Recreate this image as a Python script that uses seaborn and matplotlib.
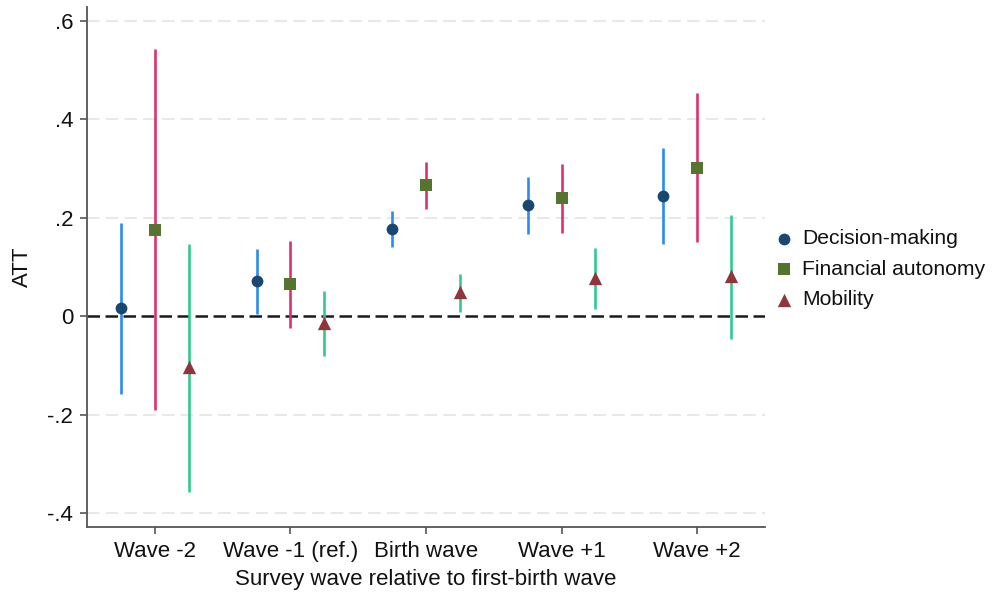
import matplotlib
matplotlib.use("Agg")
import matplotlib.pyplot as plt
import seaborn as sns
import numpy as np
import pandas as pd

categories = ["Wave -2", "Wave -1 (ref.)", "Birth wave", "Wave +1", "Wave +2"]
series = ["Decision-making", "Financial autonomy", "Mobility"]

decision = [0.017, 0.071, 0.177, 0.225, 0.245]
decision_lo = [-0.157, 0.004, 0.140, 0.167, 0.147]
decision_hi = [0.190, 0.137, 0.213, 0.283, 0.342]

financial = [0.176, 0.065, 0.266, 0.240, 0.302]
financial_lo = [-0.191, -0.023, 0.218, 0.169, 0.150]
financial_hi = [0.542, 0.153, 0.313, 0.310, 0.453]

mobility = [-0.103, -0.013, 0.049, 0.078, 0.081]
mobility_lo = [-0.357, -0.081, 0.009, 0.014, -0.046]
mobility_hi = [0.146, 0.051, 0.085, 0.139, 0.206]

ytick_values = [-0.4, -0.2, 0, 0.2, 0.4, 0.6]
ytick_labels = ["-.4", "-.2", "0", ".2", ".4", ".6"]

sns.set_theme(style="white")
plt.rcParams["font.family"] = ["Liberation Sans", "DejaVu Sans"]

marker_colors = ["#1a476f", "#55752f", "#90353b"]
ci_colors = ["#2b8cf0", "#e0306c", "#2fcb8c"]
markers = ["o", "s", "^"]
msizes = [72, 72, 92]
offsets = [-0.25, 0.0, 0.25]
FS = 16

fig = plt.figure(figsize=(9.98, 5.97), dpi=100)
ax = fig.add_axes([0.0872, 0.1173, 0.6793, 0.871])

est = [decision, financial, mobility]
lo = [decision_lo, financial_lo, mobility_lo]
hi = [decision_hi, financial_hi, mobility_hi]

frames = []
for i, name in enumerate(series):
    frames.append(pd.DataFrame({
        "cat": categories,
        "x": np.arange(len(categories)) + offsets[i],
        "est": est[i], "lo": lo[i], "hi": hi[i], "series": name,
    }))
df = pd.concat(frames, ignore_index=True)

# gridlines
for v in ytick_values:
    if v != 0:
        ax.axhline(v, color="#e8e8e8", lw=1.5, ls=(0, (6, 3)), zorder=0.5)
ax.axhline(0, color="#1a1a1a", lw=1.8, ls=(0, (5, 2.2)), zorder=1.5)

for i, name in enumerate(series):
    d = df[df["series"] == name]
    ax.vlines(d["x"], d["lo"], d["hi"], color=ci_colors[i], lw=1.9, zorder=2)
    sns.scatterplot(data=d, x="x", y="est", marker=markers[i], s=msizes[i],
                    color=marker_colors[i], edgecolor=marker_colors[i],
                    linewidth=0, label=name, ax=ax, zorder=3)

ax.set_xlim(-0.5, 4.5)
ax.set_ylim(-0.428, 0.628)
ax.set_xticks(np.arange(len(categories)))
ax.set_xticklabels(categories, fontsize=FS)
ax.set_yticks(ytick_values)
ax.set_yticklabels(ytick_labels, fontsize=FS)
ax.tick_params(axis="both", direction="out", length=5, width=1.2,
               color="#555555", labelcolor="#111111", pad=5)
ax.tick_params(axis="x", bottom=True)
ax.tick_params(axis="y", left=True)

for s in ["top", "right"]:
    ax.spines[s].set_visible(False)
for s in ["left", "bottom"]:
    ax.spines[s].set_color("#555555")
    ax.spines[s].set_linewidth(1.3)

ax.set_xlabel("Survey wave relative to first-birth wave", fontsize=FS,
              color="#111111", labelpad=5)
ax.set_ylabel("ATT", fontsize=FS, color="#111111", labelpad=10)

leg = ax.legend(loc="center left", bbox_to_anchor=(0.776, 0.549),
                bbox_transform=fig.transFigure, frameon=False,
                fontsize=15.2, handlelength=0.9, handletextpad=0.4,
                labelspacing=0.55, borderpad=0, borderaxespad=0)
for t in leg.get_texts():
    t.set_color("#111111")

fig.savefig("out.png", dpi=100)
